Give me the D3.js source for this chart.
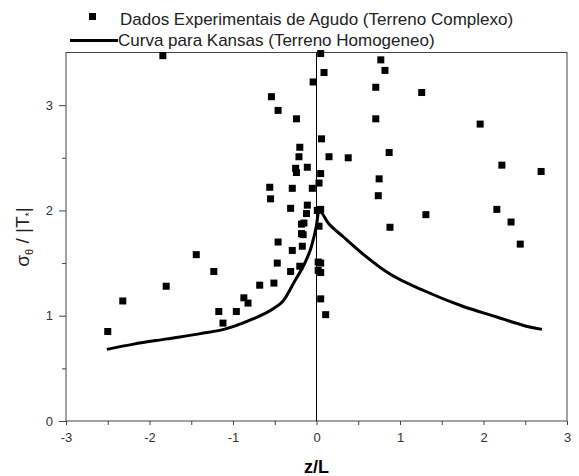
<!DOCTYPE html>
<html>
<head>
<meta charset="utf-8">
<script src="https://cdn.jsdelivr.net/npm/d3@7"></script>
<style>
  html, body { margin: 0; padding: 0; background: #fff; }
  svg { display: block; font-family: "Liberation Sans", Arial, sans-serif; }
</style>
</head>
<body>
<svg id="chart" width="579" height="476"></svg>
<script>
// Measured sigma_theta / |T*| versus z/L (Agudo, complex terrain)
const obsZL = [
  -2.50, -2.32, -1.80, -1.84, -1.44, -1.23, -1.17, -1.12, -0.96, -0.87,
  -0.82, -0.68, -0.51, -0.47, -0.46, -0.55, -0.56, -0.54, -0.46, -0.24,
  -0.20, -0.21, -0.25, -0.24, -0.11, -0.29, -0.05, -0.31, -0.11, -0.12,
  -0.15, -0.18, -0.18, -0.16, -0.29, -0.17, -0.20, -0.31, -0.04,
  0.05, 0.09, 0.06, 0.15, 0.38, 0.05, 0.03, 0.05, 0.01, 0.03,
  0.02, 0.05, 0.02, 0.05, 0.05, 0.11,
  0.77, 0.82, 0.71, 1.26, 0.71, 1.96, 0.87, 2.22, 2.69, 0.75,
  0.74, 1.31, 2.16, 2.33, 2.44, 0.88
];
const obsSigma = [
  0.85, 1.14, 1.28, 3.47, 1.58, 1.42, 1.04, 0.93, 1.04, 1.17,
  1.12, 1.29, 1.31, 1.50, 1.70, 2.11, 2.22, 3.08, 2.95, 2.87,
  2.60, 2.51, 2.40, 2.36, 2.41, 2.21, 2.21, 2.02, 2.05, 1.97,
  1.88, 1.87, 1.78, 1.77, 1.62, 1.66, 1.47, 1.42, 3.22,
  3.49, 3.31, 2.68, 2.51, 2.50, 2.35, 2.26, 2.01, 2.00, 1.85,
  1.51, 1.50, 1.43, 1.41, 1.16, 1.01,
  3.43, 3.33, 3.17, 3.12, 2.87, 2.82, 2.55, 2.43, 2.37, 2.30,
  2.14, 1.96, 2.01, 1.89, 1.68, 1.84
];

// Kansas reference curve (homogeneous terrain)
const kansasZL = [
  -2.51, -2.19, -1.79, -1.39, -1.11, -0.79, -0.51, -0.40, -0.26, -0.14,
  -0.06, 0.00, 0.03, 0.14, 0.32, 0.55, 0.87, 1.31, 1.75, 2.15, 2.47, 2.70
];
const kansasSigma = [
  0.68, 0.73, 0.78, 0.83, 0.87, 0.96, 1.07, 1.14, 1.33, 1.50,
  1.66, 1.86, 2.00, 1.88, 1.75, 1.59, 1.40, 1.23, 1.09, 0.99, 0.91, 0.87
];

const xMajorTicks = [-3, -2, -1, 0, 1, 2, 3];
const xMinorTicks = [-2.5, -1.5, -0.5, 0.5, 1.5, 2.5];
const yMajorTicks = [0, 1, 2, 3];
const yMinorTicks = [0.5, 1.5, 2.5];

const legendLabels = [
  "Dados Experimentais de Agudo (Terreno Complexo)",
  "Curva para Kansas (Terreno Homogeneo)"
];

const svg = d3.select("#chart");
const plotL = 66, plotR = 567, plotT = 52.5, plotB = 421;

const x = d3.scaleLinear().domain([-3, 3]).range([plotL, plotR]);
const y = d3.scaleLinear().domain([0, 3.5]).range([plotB, plotT]);

const axisColor = "#444";
const textColor = "#333";
const fmt = d => (d < 0 ? "-" + Math.abs(d) : String(d));

// frame
svg.append("rect")
  .attr("x", plotL).attr("y", plotT)
  .attr("width", plotR - plotL).attr("height", plotB - plotT)
  .attr("fill", "none").attr("stroke", axisColor).attr("stroke-width", 1);

// x axis
svg.append("g").attr("transform", `translate(0,${plotB})`)
  .call(d3.axisBottom(x).tickValues(xMajorTicks).tickSize(4).tickPadding(8)
    .tickFormat(fmt));
svg.append("g").attr("transform", `translate(0,${plotB})`)
  .call(d3.axisBottom(x).tickValues(xMinorTicks).tickSize(4).tickFormat(""));

// y axis
svg.append("g").attr("transform", `translate(${plotL},0)`)
  .call(d3.axisLeft(y).tickValues(yMajorTicks).tickSize(7).tickPadding(6)
    .tickFormat(fmt));
svg.append("g").attr("transform", `translate(${plotL},0)`)
  .call(d3.axisLeft(y).tickValues(yMinorTicks).tickSize(4).tickFormat(""));

svg.selectAll(".domain").remove();
svg.selectAll(".tick line").attr("stroke", axisColor);
svg.selectAll(".tick text").attr("fill", textColor)
  .style("font-size", "13px")
  .style("font-family", "'Liberation Sans', Arial, sans-serif");

// vertical line at z/L = 0
svg.append("line")
  .attr("x1", x(0)).attr("x2", x(0))
  .attr("y1", plotT).attr("y2", plotB)
  .attr("stroke", "#000").attr("stroke-width", 1);

// Kansas curve
const curvePts = kansasZL.map((v, i) => [v, kansasSigma[i]]);
svg.append("path")
  .datum(curvePts)
  .attr("fill", "none")
  .attr("stroke", "#000")
  .attr("stroke-width", 3)
  .attr("stroke-linejoin", "round")
  .attr("d", d3.line().x(d => x(d[0])).y(d => y(d[1])).curve(d3.curveMonotoneX));

// observations
const sq = 7;
const obs = obsZL.map((v, i) => [v, obsSigma[i]]);
svg.append("g").selectAll("rect")
  .data(obs)
  .join("rect")
  .attr("x", d => x(d[0]) - sq / 2)
  .attr("y", d => y(d[1]) - sq / 2)
  .attr("width", sq).attr("height", sq)
  .attr("fill", "#000");

// legend
const lg = svg.append("g");
lg.append("rect").attr("x", 89).attr("y", 13).attr("width", sq).attr("height", sq).attr("fill", "#000");
lg.append("text").attr("x", 120).attr("y", 25)
  .attr("fill", "#222").style("font-size", "17px").text(legendLabels[0]);
lg.append("line").attr("x1", 70).attr("x2", 118).attr("y1", 40.5).attr("y2", 40.5)
  .attr("stroke", "#000").attr("stroke-width", 3);
lg.append("text").attr("x", 118).attr("y", 45.5)
  .attr("fill", "#222").style("font-size", "17px").text(legendLabels[1]);

// axis titles
svg.append("text")
  .attr("x", x(0)).attr("y", 473)
  .attr("text-anchor", "middle")
  .attr("fill", "#000")
  .style("font-size", "18px").style("font-weight", "bold")
  .text("z/L");

const yt = svg.append("text")
  .attr("transform", `translate(29,${237}) rotate(-90)`)
  .attr("text-anchor", "middle")
  .attr("fill", "#222")
  .style("font-size", "19px");
yt.append("tspan").text("σ");
yt.append("tspan").attr("dy", 4).style("font-size", "11px").text("θ");
yt.append("tspan").attr("dy", -4).text(" / |T");
yt.append("tspan").attr("dy", 4).style("font-size", "11px").text("*");
yt.append("tspan").attr("dy", -4).text("|");
</script>
</body>
</html>
